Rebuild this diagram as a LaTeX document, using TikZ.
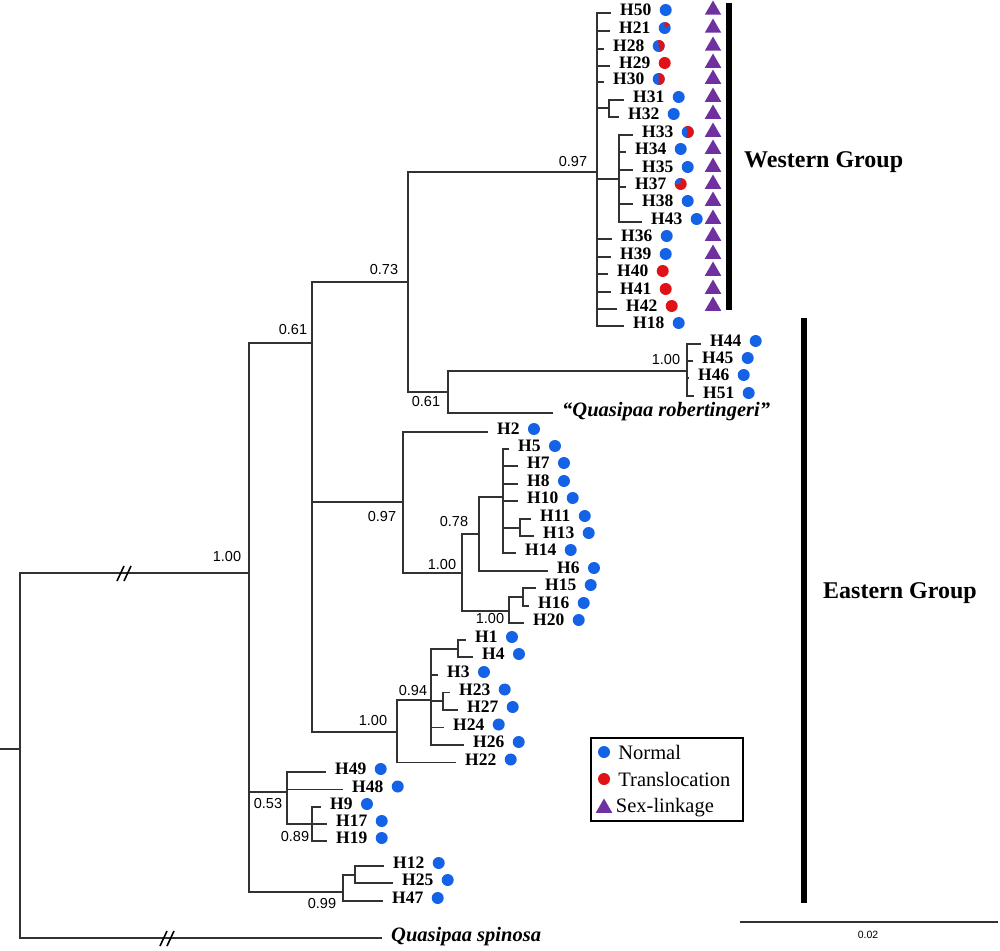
\documentclass[tikz,border=0pt]{standalone}
\usepackage{fontspec}
\setmainfont{Liberation Serif}
\newfontfamily\arialfont{Liberation Sans}
\usetikzlibrary{positioning,shapes.geometric}
\definecolor{normblue}{RGB}{20,98,230}
\definecolor{transred}{RGB}{224,18,24}
\definecolor{sexpurple}{RGB}{112,48,160}
\definecolor{branchgray}{RGB}{50,50,50}
\begin{document}
\begin{tikzpicture}[
  x=1pt, y=-1pt,
  br/.style={draw=branchgray, line width=1.2pt},
  hap/.style={anchor=west, inner sep=0pt, xshift=9pt, yshift=3pt, font=\fontsize{17.5}{18}\selectfont\bfseries},
  taxon/.style={anchor=west, inner sep=0pt, xshift=9pt, yshift=1pt, font=\fontsize{20.5}{22}\selectfont\bfseries\itshape},
  bs/.style={inner sep=0pt, font=\arialfont\fontsize{14.5}{15}\selectfont},
  nrm/.style={circle, fill=normblue, inner sep=0pt, minimum size=12pt},
  trl/.style={circle, fill=transred, inner sep=0pt, minimum size=12pt},
  sexl/.style={regular polygon, regular polygon sides=3, fill=sexpurple, inner sep=0pt, minimum size=19pt},
  grp/.style={anchor=base west, inner sep=0pt, font=\fontsize{24}{26}\selectfont\bfseries},
  legtxt/.style={inner sep=0pt, font=\fontsize{20.5}{22}\selectfont},
  slash/.style={draw=black, line width=1.6pt}
]
\useasboundingbox (0,0) rectangle (1000,950);

% internal nodes
\coordinate (stub) at (0,749);
\coordinate (root) at (20,749);
\coordinate (nA) at (249,573);
\coordinate (nB) at (312,343);
\coordinate (nC) at (287,792);
\coordinate (nD) at (343,892);
\coordinate (nE) at (408,282);
\coordinate (nF) at (403,502);
\coordinate (nG) at (397,732);
\coordinate (nW) at (597,172);
\coordinate (nW31) at (609,108);
\coordinate (nW33) at (619,179);
\coordinate (nR) at (448,392);
\coordinate (nRb) at (687,371);
\coordinate (nF2) at (462,573);
\coordinate (nF78) at (479,534);
\coordinate (nF5) at (503,497);
\coordinate (nF11) at (520,528);
\coordinate (nF15) at (509,611);
\coordinate (nF16) at (523,597);
\coordinate (nG94) at (431,700);
\coordinate (nG1) at (458,649);
\coordinate (nG23) at (443,701);
\coordinate (nC89) at (312,824);
\coordinate (nD12) at (355,875);
\coordinate (tspin) at (382,938);
\coordinate (trob) at (553,413);
\coordinate (tri) at (713,0);

% western group tips
\coordinate (t50) at (611,13);
\coordinate (t21) at (610,31);
\coordinate (t28) at (604,49);
\coordinate (t29) at (610,66);
\coordinate (t30) at (604,82);
\coordinate (t31) at (624,100);
\coordinate (t32) at (619,117);
\coordinate (t33) at (633,135);
\coordinate (t34) at (626,152);
\coordinate (t35) at (633,170);
\coordinate (t37) at (626,187);
\coordinate (t38) at (633,204);
\coordinate (t43) at (642,222);
\coordinate (t36) at (612,239);
\coordinate (t39) at (611,257);
\coordinate (t40) at (608,274);
\coordinate (t41) at (611,292);
\coordinate (t42) at (617,309);
\coordinate (t18) at (624,326);
% robertingeri lineage tips
\coordinate (t44) at (701,344);
\coordinate (t45) at (693,361);
\coordinate (t46) at (689,378);
\coordinate (t51) at (694,396);
% eastern group tips
\coordinate (t2) at (488,432);
\coordinate (t5) at (509,449);
\coordinate (t7) at (518,466);
\coordinate (t8) at (518,484);
\coordinate (t10) at (518,501);
\coordinate (t11) at (531,519);
\coordinate (t13) at (534,536);
\coordinate (t14) at (516,553);
\coordinate (t6) at (548,571);
\coordinate (t15) at (536,588);
\coordinate (t16) at (529,606);
\coordinate (t20) at (524,623);
\coordinate (t1) at (466,640);
\coordinate (t4) at (473,657);
\coordinate (t3) at (438,675);
\coordinate (t23) at (450,692.5);
\coordinate (t27) at (458,710);
\coordinate (t24) at (444,727.5);
\coordinate (t26) at (464,745);
\coordinate (t22) at (456,762.5);
\coordinate (t49) at (326,772);
\coordinate (t48) at (343,789.5);
\coordinate (t9) at (321,807);
\coordinate (t17) at (327,824);
\coordinate (t19) at (327,841);
\coordinate (t12) at (384,866);
\coordinate (t25) at (393,883);
\coordinate (t47) at (383,901);

% branches
\draw[br] (stub) -- (root);
\draw[br] (root) |- (nA);
\draw[br] (root) |- (tspin);
\draw[br] (nA) |- (nB);
\draw[br] (nA) |- (nC);
\draw[br] (nA) |- (nD);
\draw[br] (nB) |- (nE);
\draw[br] (nB) |- (nF);
\draw[br] (nB) |- (nG);
\draw[br] (nE) |- (nW);
\draw[br] (nE) |- (nR);
\draw[br] (nR) |- (nRb);
\draw[br] (nR) |- (trob);
\draw[br] (nW) |- (t50);
\draw[br] (nW) |- (t21);
\draw[br] (nW) |- (t28);
\draw[br] (nW) |- (t29);
\draw[br] (nW) |- (t30);
\draw[br] (nW) |- (nW31);
\draw[br] (nW31) |- (t31);
\draw[br] (nW31) |- (t32);
\draw[br] (nW) |- (nW33);
\draw[br] (nW33) |- (t33);
\draw[br] (nW33) |- (t34);
\draw[br] (nW33) |- (t35);
\draw[br] (nW33) |- (t37);
\draw[br] (nW33) |- (t38);
\draw[br] (nW33) |- (t43);
\draw[br] (nW) |- (t36);
\draw[br] (nW) |- (t39);
\draw[br] (nW) |- (t40);
\draw[br] (nW) |- (t41);
\draw[br] (nW) |- (t42);
\draw[br] (nW) |- (t18);
\draw[br] (nRb) |- (t44);
\draw[br] (nRb) |- (t45);
\draw[br] (nRb) |- (t46);
\draw[br] (nRb) |- (t51);
\draw[br] (nF) |- (t2);
\draw[br] (nF) |- (nF2);
\draw[br] (nF2) |- (nF78);
\draw[br] (nF2) |- (nF15);
\draw[br] (nF78) |- (nF5);
\draw[br] (nF78) |- (t6);
\draw[br] (nF5) |- (t5);
\draw[br] (nF5) |- (t7);
\draw[br] (nF5) |- (t8);
\draw[br] (nF5) |- (t10);
\draw[br] (nF5) |- (nF11);
\draw[br] (nF5) |- (t14);
\draw[br] (nF11) |- (t11);
\draw[br] (nF11) |- (t13);
\draw[br] (nF15) |- (nF16);
\draw[br] (nF15) |- (t20);
\draw[br] (nF16) |- (t15);
\draw[br] (nF16) |- (t16);
\draw[br] (nG) |- (nG94);
\draw[br] (nG) |- (t22);
\draw[br] (nG94) |- (nG1);
\draw[br] (nG94) |- (t3);
\draw[br] (nG94) |- (nG23);
\draw[br] (nG94) |- (t24);
\draw[br] (nG94) |- (t26);
\draw[br] (nG1) |- (t1);
\draw[br] (nG1) |- (t4);
\draw[br] (nG23) |- (t23);
\draw[br] (nG23) |- (t27);
\draw[br] (nC) |- (t49);
\draw[br] (nC) |- (t48);
\draw[br] (nC) |- (nC89);
\draw[br] (nC89) |- (t9);
\draw[br] (nC89) |- (t17);
\draw[br] (nC89) |- (t19);
\draw[br] (nD) |- (nD12);
\draw[br] (nD) |- (t47);
\draw[br] (nD12) |- (t12);
\draw[br] (nD12) |- (t25);

% broken branches
\coordinate (brk1) at (123,573);
\coordinate (brk2) at (166,938);
\draw[slash] ([shift={(-6,8)}]brk1) -- ++(7,-15);
\draw[slash] ([shift={(1,8)}]brk1) -- ++(7,-15);
\draw[slash] ([shift={(-6,8)}]brk2) -- ++(7,-15);
\draw[slash] ([shift={(1,8)}]brk2) -- ++(7,-15);

% taxon labels
\node[taxon] (qspin) at (tspin) {Quasipaa spinosa};
\node[taxon] (qrob) at (trob) {\textquotedblleft Quasipaa robertingeri\textquotedblright};

% haplotype labels
\node[hap] (h50) at (t50) {H50};
\node[hap] (h21) at (t21) {H21};
\node[hap] (h28) at (t28) {H28};
\node[hap] (h29) at (t29) {H29};
\node[hap] (h30) at (t30) {H30};
\node[hap] (h31) at (t31) {H31};
\node[hap] (h32) at (t32) {H32};
\node[hap] (h33) at (t33) {H33};
\node[hap] (h34) at (t34) {H34};
\node[hap] (h35) at (t35) {H35};
\node[hap] (h37) at (t37) {H37};
\node[hap] (h38) at (t38) {H38};
\node[hap] (h43) at (t43) {H43};
\node[hap] (h36) at (t36) {H36};
\node[hap] (h39) at (t39) {H39};
\node[hap] (h40) at (t40) {H40};
\node[hap] (h41) at (t41) {H41};
\node[hap] (h42) at (t42) {H42};
\node[hap] (h18) at (t18) {H18};
\node[hap] (h44) at (t44) {H44};
\node[hap] (h45) at (t45) {H45};
\node[hap] (h46) at (t46) {H46};
\node[hap] (h51) at (t51) {H51};
\node[hap] (h2) at (t2) {H2};
\node[hap] (h5) at (t5) {H5};
\node[hap] (h7) at (t7) {H7};
\node[hap] (h8) at (t8) {H8};
\node[hap] (h10) at (t10) {H10};
\node[hap] (h11) at (t11) {H11};
\node[hap] (h13) at (t13) {H13};
\node[hap] (h14) at (t14) {H14};
\node[hap] (h6) at (t6) {H6};
\node[hap] (h15) at (t15) {H15};
\node[hap] (h16) at (t16) {H16};
\node[hap] (h20) at (t20) {H20};
\node[hap] (h1) at (t1) {H1};
\node[hap] (h4) at (t4) {H4};
\node[hap] (h3) at (t3) {H3};
\node[hap] (h23) at (t23) {H23};
\node[hap] (h27) at (t27) {H27};
\node[hap] (h24) at (t24) {H24};
\node[hap] (h26) at (t26) {H26};
\node[hap] (h22) at (t22) {H22};
\node[hap] (h49) at (t49) {H49};
\node[hap] (h48) at (t48) {H48};
\node[hap] (h9) at (t9) {H9};
\node[hap] (h17) at (t17) {H17};
\node[hap] (h19) at (t19) {H19};
\node[hap] (h12) at (t12) {H12};
\node[hap] (h25) at (t25) {H25};
\node[hap] (h47) at (t47) {H47};

% karyotype dots
\node[nrm, right=8pt of h50] (d50) {};
\node[nrm, right=8pt of h21] (d21) {};
\node[nrm, right=8pt of h28] (d28) {};
\node[trl, right=8pt of h29] (d29) {};
\node[nrm, right=8pt of h30] (d30) {};
\node[nrm, right=8pt of h31] (d31) {};
\node[nrm, right=8pt of h32] (d32) {};
\node[nrm, right=8pt of h33] (d33) {};
\node[nrm, right=8pt of h34] (d34) {};
\node[nrm, right=8pt of h35] (d35) {};
\node[trl, right=8pt of h37] (d37) {};
\node[nrm, right=8pt of h38] (d38) {};
\node[nrm, right=8pt of h43] (d43) {};
\node[nrm, right=8pt of h36] (d36) {};
\node[nrm, right=8pt of h39] (d39) {};
\node[trl, right=8pt of h40] (d40) {};
\node[trl, right=8pt of h41] (d41) {};
\node[trl, right=8pt of h42] (d42) {};
\node[nrm, right=8pt of h18] (d18) {};
\node[nrm, right=8pt of h44] (d44) {};
\node[nrm, right=8pt of h45] (d45) {};
\node[nrm, right=8pt of h46] (d46) {};
\node[nrm, right=8pt of h51] (d51) {};
\node[nrm, right=8pt of h2] (d2) {};
\node[nrm, right=8pt of h5] (d5) {};
\node[nrm, right=8pt of h7] (d7) {};
\node[nrm, right=8pt of h8] (d8) {};
\node[nrm, right=8pt of h10] (d10) {};
\node[nrm, right=8pt of h11] (d11) {};
\node[nrm, right=8pt of h13] (d13) {};
\node[nrm, right=8pt of h14] (d14) {};
\node[nrm, right=8pt of h6] (d6) {};
\node[nrm, right=8pt of h15] (d15) {};
\node[nrm, right=8pt of h16] (d16) {};
\node[nrm, right=8pt of h20] (d20) {};
\node[nrm, right=8pt of h1] (d1) {};
\node[nrm, right=8pt of h4] (d4) {};
\node[nrm, right=8pt of h3] (d3) {};
\node[nrm, right=8pt of h23] (d23) {};
\node[nrm, right=8pt of h27] (d27) {};
\node[nrm, right=8pt of h24] (d24) {};
\node[nrm, right=8pt of h26] (d26) {};
\node[nrm, right=8pt of h22] (d22) {};
\node[nrm, right=8pt of h49] (d49) {};
\node[nrm, right=8pt of h48] (d48) {};
\node[nrm, right=8pt of h9] (d9) {};
\node[nrm, right=8pt of h17] (d17) {};
\node[nrm, right=8pt of h19] (d19) {};
\node[nrm, right=8pt of h12] (d12) {};
\node[nrm, right=8pt of h25] (d25) {};
\node[nrm, right=8pt of h47] (d47) {};

% mixed haplotypes
\fill[transred] (d21.center) -- ++(90:6pt) arc[start angle=90, end angle=30, radius=6pt] -- cycle;
\fill[transred] (d28.center) -- ++(95:6pt) arc[start angle=95, end angle=-75, radius=6pt] -- cycle;
\fill[transred] (d30.center) -- ++(90:6pt) arc[start angle=90, end angle=-90, radius=6pt] -- cycle;
\fill[transred] (d33.center) -- ++(105:6pt) arc[start angle=105, end angle=-105, radius=6pt] -- cycle;
\fill[normblue] (d37.center) -- ++(90:6pt) arc[start angle=90, end angle=180, radius=6pt] -- cycle;

% sex-linkage marks
\node[sexl] (s50) at (h50 -| tri) {};
\node[sexl] (s21) at (h21 -| tri) {};
\node[sexl] (s28) at (h28 -| tri) {};
\node[sexl] (s29) at (h29 -| tri) {};
\node[sexl] (s30) at (h30 -| tri) {};
\node[sexl] (s31) at (h31 -| tri) {};
\node[sexl] (s32) at (h32 -| tri) {};
\node[sexl] (s33) at (h33 -| tri) {};
\node[sexl] (s34) at (h34 -| tri) {};
\node[sexl] (s35) at (h35 -| tri) {};
\node[sexl] (s37) at (h37 -| tri) {};
\node[sexl] (s38) at (h38 -| tri) {};
\node[sexl] (s43) at (h43 -| tri) {};
\node[sexl] (s36) at (h36 -| tri) {};
\node[sexl] (s39) at (h39 -| tri) {};
\node[sexl] (s40) at (h40 -| tri) {};
\node[sexl] (s41) at (h41 -| tri) {};
\node[sexl] (s42) at (h42 -| tri) {};

% support values
\node[bs] (b1) at (227,557) {1.00};
\node[bs] (b2) at (293,330) {0.61};
\node[bs] (b3) at (384,270) {0.73};
\node[bs] (b4) at (573,162) {0.97};
\node[bs] (b5) at (426,402) {0.61};
\node[bs] (b6) at (666,360) {1.00};
\node[bs] (b7) at (382,517) {0.97};
\node[bs] (b8) at (454,522) {0.78};
\node[bs] (b9) at (442,564) {1.00};
\node[bs] (b10) at (490,618) {1.00};
\node[bs] (b11) at (413,690) {0.94};
\node[bs] (b12) at (373,720) {1.00};
\node[bs] (b13) at (268,803) {0.53};
\node[bs] (b14) at (295,836) {0.89};
\node[bs] (b15) at (322,903) {0.99};

% group bars
\coordinate (wtop) at (729,3);
\coordinate (wbot) at (729,310);
\coordinate (etop) at (804,318);
\coordinate (ebot) at (804,903);
\draw[line width=6pt] (wtop) -- (wbot);
\draw[line width=6pt] (etop) -- (ebot);
\node[grp] (wg) at (744,167) {Western Group};
\node[grp] (eg) at (823,598) {Eastern Group};

% legend
\draw[line width=1.3pt] (591,738) rectangle (743,821);
\node[nrm] (ln) at (604,752) {};
\node[trl] (lt) at (604,779) {};
\node[sexl] (ls) at (604,808) {};
\node[legtxt, right=8pt of ln] (lnt) {Normal};
\node[legtxt, right=8pt of lt] (ltt) {Translocation};
\node[legtxt, right=6pt of ls] (lst) {Sex-linkage};

% scale bar
\coordinate (sb1) at (740,922);
\coordinate (sb2) at (998,922);
\draw[br] (sb1) -- (sb2);
\node[bs, font=\arialfont\fontsize{10.5}{11}\selectfont] (sbl) at (868,935) {0.02};
\end{tikzpicture}
\end{document}
